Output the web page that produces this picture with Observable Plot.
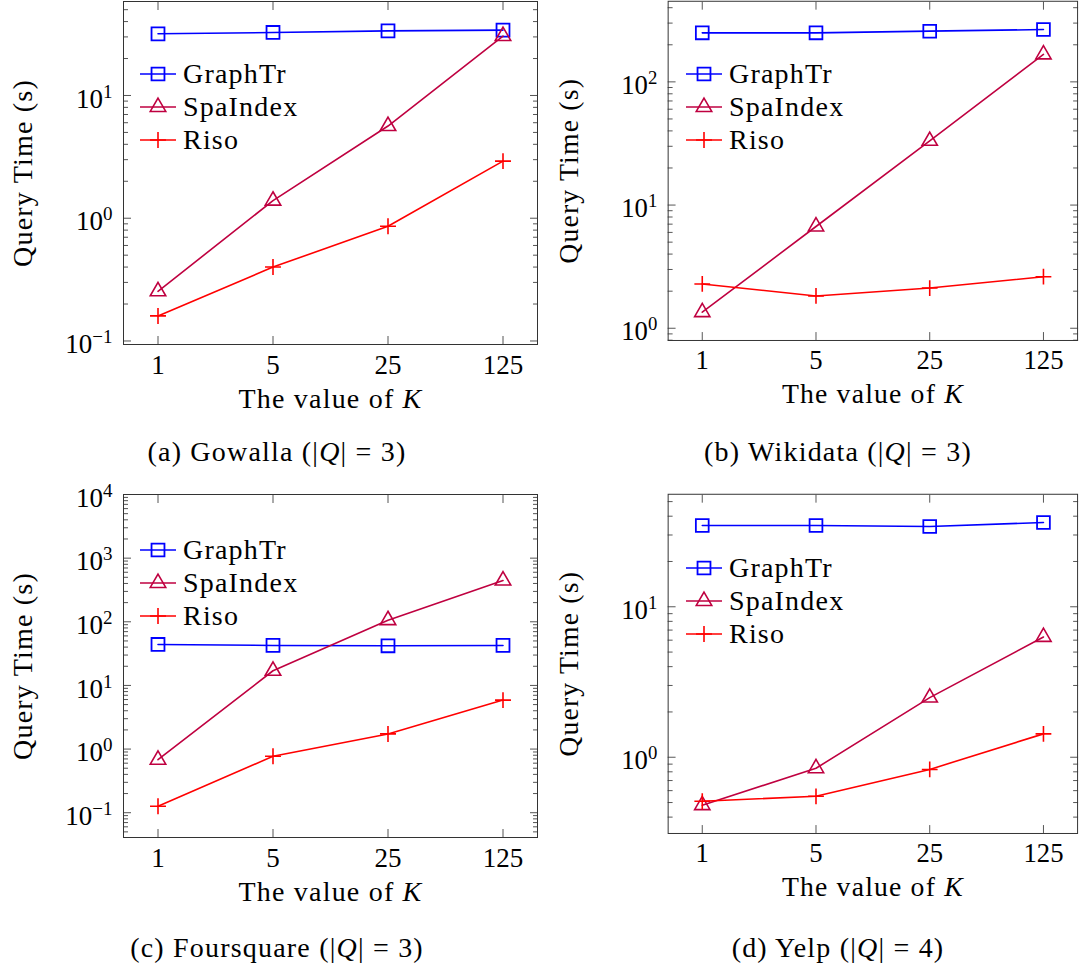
<!DOCTYPE html>
<html>
<head>
<meta charset="utf-8">
<script src="https://cdn.jsdelivr.net/npm/d3@7"></script>
<script src="https://cdn.jsdelivr.net/npm/@observablehq/plot@0.6"></script>
<style>
html, body { margin: 0; padding: 0; background: #fff; overflow: hidden; }
#root { position: relative; width: 1085px; height: 970px; overflow: hidden; font-family: "Liberation Serif", serif; color: #000; }
.panel { position: absolute; }
.caption { position: absolute; font-size: 28px; letter-spacing: 1.2px; white-space: nowrap; transform: translate(-50%, -50%); }
.legend { position: absolute; font-size: 28px; letter-spacing: 1.2px; }
.legend .row { display: flex; align-items: center; height: 33px; }
.legend .row svg { display: block; margin-right: 6px; }
</style>
</head>
<body>
<div id="root"></div>
<script>
// ---- data ----
const K = [1, 5, 25, 125];
const xTickLabels = ["1", "5", "25", "125"];
const seriesNames = ["GraphTr", "SpaIndex", "Riso"];
const seriesColors = ["#0000ff", "#bf0040", "#ff0000"];
const seriesSymbols = ["square", "triangle", "plus"];

const gowallaGraphTr = [31.8, 32.6, 33.6, 34.1];
const gowallaSpaIndex = [0.254, 1.39, 5.64, 30.5];
const gowallaRiso = [0.16, 0.40, 0.86, 2.92];

const wikidataGraphTr = [250, 250, 258, 266];
const wikidataSpaIndex = [1.35, 6.7, 33.2, 167];
const wikidataRiso = [2.29, 1.83, 2.12, 2.62];

const foursquareGraphTr = [44, 42.5, 42, 42.5];
const foursquareSpaIndex = [0.68, 17, 106, 445];
const foursquareRiso = [0.126, 0.77, 1.73, 5.88];

const yelpGraphTr = [34.7, 34.7, 34.2, 36.3];
const yelpSpaIndex = [0.48, 0.845, 2.49, 6.3];
const yelpRiso = [0.51, 0.55, 0.83, 1.43];

const panelLetters = ["a", "b", "c", "d"];
const panelNames = ["Gowalla", "Wikidata", "Foursquare", "Yelp"];
const panelQ = [3, 3, 3, 4];
const panelYMax = [null, null, 1e4, null];
const panelSeries = [
  [gowallaGraphTr, gowallaSpaIndex, gowallaRiso],
  [wikidataGraphTr, wikidataSpaIndex, wikidataRiso],
  [foursquareGraphTr, foursquareSpaIndex, foursquareRiso],
  [yelpGraphTr, yelpSpaIndex, yelpRiso]
];

const xLabel = "The value of K";
const yLabel = "Query Time (s)";

// ---- layout ----
const W = 545, H = 440, mL = 123, mR = 8, mT = 21, mB = 76;
const panelLeft = [0, 546, 0, 546];
const panelTop = [-20, -20, 473, 473];
const captionX = [277, 838, 277, 838];
const captionY = [452, 452, 948, 948];
const legendRow1 = [73, 73, 56, 74];
const symbolR = {square: 7.3, triangle: 5.75, plus: 5.2};
const symbolStrokeW = {square: 1.8, triangle: 1.6, plus: 1.6};
const d3Symbol = {square: d3.symbolSquare, triangle: d3.symbolTriangle, plus: d3.symbolPlus};
const tickStroke = "#555";
const SVGNS = "http://www.w3.org/2000/svg";

const root = document.getElementById("root");

panelSeries.forEach((series, p) => {
  const rows = [];
  series.forEach((vals, s) => vals.forEach((v, i) => rows.push({K: K[i], t: v, series: seriesNames[s]})));

  // x domain: log range enlarged by 10%
  const lx0 = Math.log10(K[0]), lx1 = Math.log10(K[K.length - 1]);
  const px = 0.1 * (lx1 - lx0);
  const xDomain = [Math.pow(10, lx0 - px), Math.pow(10, lx1 + px)];

  // y domain: log range enlarged by 10% (upper fixed if given)
  const logs = rows.map(d => Math.log10(d.t));
  let lo = d3.min(logs), hi = panelYMax[p] ? Math.log10(panelYMax[p]) : d3.max(logs);
  const py = 0.1 * (hi - lo);
  lo -= py;
  if (!panelYMax[p]) hi += py;
  const yDomain = [Math.pow(10, lo), Math.pow(10, hi)];

  const majors = [], minors = [];
  for (let e = Math.floor(lo); e <= Math.ceil(hi); e++) {
    if (e >= lo - 1e-9 && e <= hi + 1e-9) majors.push(Math.pow(10, e));
    for (let m = 2; m <= 9; m++) {
      const v = m * Math.pow(10, e);
      const lv = Math.log10(v);
      if (lv > lo && lv < hi) minors.push(v);
    }
  }

  const xTicks = K.map((k, i) => ({k, label: xTickLabels[i]}));

  const marks = [
    Plot.axisX(K, {anchor: "bottom", tickSize: -8, tickFormat: () => "", label: null, stroke: tickStroke}),
    Plot.axisX(K, {anchor: "top", tickSize: -8, tickFormat: () => "", label: null, stroke: tickStroke}),
    Plot.axisX(K, {anchor: "bottom", tickSize: 0, tickFormat: () => "",
      label: xLabel, labelAnchor: "center", labelOffset: 63, labelArrow: "none"}),
    Plot.text(xTicks, {x: "k", text: "label", frameAnchor: "bottom", lineAnchor: "top", dy: 10, fontSize: 27}),
    Plot.axisY(majors, {anchor: "left", tickSize: -8, tickFormat: () => "", label: null, stroke: tickStroke}),
    Plot.axisY(majors, {anchor: "right", tickSize: -8, tickFormat: () => "", label: null, stroke: tickStroke}),
    Plot.axisY(minors, {anchor: "left", tickSize: -5, tickFormat: () => "", label: null, stroke: tickStroke}),
    Plot.axisY(minors, {anchor: "right", tickSize: -5, tickFormat: () => "", label: null, stroke: tickStroke}),
    Plot.axisY(majors, {anchor: "left", tickSize: 0, tickPadding: 11,
      tickFormat: d => "10^" + Math.round(Math.log10(d)),
      label: yLabel, labelAnchor: "center", labelOffset: 111, labelArrow: "none"})
  ];
  seriesNames.forEach((name, s) => {
    const data = rows.filter(d => d.series === name);
    const sym = seriesSymbols[s];
    marks.push(Plot.line(data, {x: "K", y: "t", stroke: seriesColors[s], strokeWidth: 1.6}));
    marks.push(Plot.dot(data, {x: "K", y: "t", symbol: sym, r: symbolR[sym], fill: "none",
      stroke: seriesColors[s], strokeWidth: symbolStrokeW[sym]}));
  });
  marks.push(Plot.frame({stroke: "#333", strokeWidth: 1}));

  const svg = Plot.plot({
    width: W, height: H,
    marginLeft: mL, marginRight: mR, marginTop: mT, marginBottom: mB,
    style: {fontFamily: "Liberation Serif, serif", fontSize: "27px", background: "transparent", color: "#000"},
    x: {type: "log", domain: xDomain},
    y: {type: "log", domain: yDomain},
    marks
  });

  // superscript exponents on y tick labels
  svg.querySelectorAll('[aria-label="y-axis tick label"] text').forEach(t => {
    const s = t.textContent;
    if (s.startsWith("10^")) {
      const e = s.slice(3).replace("-", "\u2212");
      t.textContent = "";
      const a = document.createElementNS(SVGNS, "tspan");
      a.setAttribute("dy", "3.5");
      a.textContent = "10";
      const b = document.createElementNS(SVGNS, "tspan");
      b.setAttribute("dy", "-10");
      b.setAttribute("font-size", "19");
      b.textContent = e;
      t.appendChild(a); t.appendChild(b);
    }
  });
  // axis titles: slightly larger, spaced; italic K in x label
  svg.querySelectorAll('[aria-label="x-axis label"] text, [aria-label="y-axis label"] text').forEach(t => {
    t.setAttribute("font-size", "28");
    t.setAttribute("letter-spacing", "1.2");
    const s = t.textContent;
    if (s.endsWith(" K")) {
      t.textContent = s.slice(0, -1);
      const k = document.createElementNS(SVGNS, "tspan");
      k.setAttribute("font-style", "italic");
      k.textContent = "K";
      t.appendChild(k);
    }
  });

  const wrap = document.createElement("div");
  wrap.className = "panel";
  wrap.style.left = panelLeft[p] + "px";
  wrap.style.top = panelTop[p] + "px";
  wrap.appendChild(svg);
  root.appendChild(wrap);

  const frameTop = panelTop[p] + mT;

  // legend inside the frame
  const leg = document.createElement("div");
  leg.className = "legend";
  leg.style.left = (panelLeft[p] + mL + 16) + "px";
  leg.style.top = (frameTop + legendRow1[p] - 16.5) + "px";
  seriesNames.forEach((name, s) => {
    const row = document.createElement("div");
    row.className = "row";
    const sym = seriesSymbols[s];
    const ic = d3.create("svg").attr("width", 38).attr("height", 24);
    ic.append("line").attr("x1", 1).attr("x2", 37).attr("y1", 12).attr("y2", 12)
      .attr("stroke", seriesColors[s]).attr("stroke-width", 1.6);
    ic.append("path").attr("transform", "translate(19,12)")
      .attr("d", d3.symbol(d3Symbol[sym], Math.PI * symbolR[sym] * symbolR[sym])())
      .attr("fill", "none").attr("stroke", seriesColors[s]).attr("stroke-width", symbolStrokeW[sym]);
    row.appendChild(ic.node());
    const tx = document.createElement("span");
    tx.textContent = name;
    row.appendChild(tx);
    leg.appendChild(row);
  });
  root.appendChild(leg);

  // caption
  const cap = document.createElement("div");
  cap.className = "caption";
  cap.style.left = captionX[p] + "px";
  cap.style.top = captionY[p] + "px";
  cap.innerHTML = `(${panelLetters[p]}) ${panelNames[p]} (|<i>Q</i>| = ${panelQ[p]})`;
  root.appendChild(cap);
});
</script>
</body>
</html>
